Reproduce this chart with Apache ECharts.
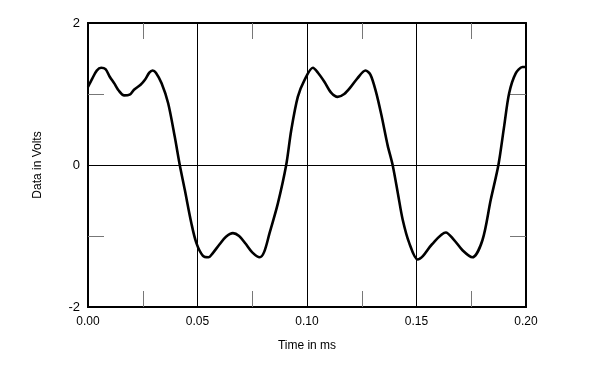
<!DOCTYPE html>
<html><head><meta charset="utf-8">
<script src="https://cdn.jsdelivr.net/npm/echarts@6/dist/echarts.min.js"></script>
<style>html,body{margin:0;padding:0;background:#fff}#c{width:600px;height:370px}</style>
</head><body><div id="c"></div>
<script>
const timeMs = [0.000,0.002,0.004,0.006,0.008,0.010,0.012,0.014,0.0165,0.019,0.021,0.024,0.026,0.028,0.0295,0.031,0.0336,0.0366,0.0396,0.0419,0.0442,0.0472,0.0495,0.0525,0.055,0.057,0.060,0.063,0.0662,0.069,0.072,0.075,0.0784,0.0805,0.0829,0.0867,0.0905,0.0928,0.0958,0.0989,0.1027,0.105,0.108,0.111,0.114,0.117,0.120,0.123,0.1267,0.129,0.1315,0.134,0.1368,0.1391,0.1415,0.1437,0.1467,0.1505,0.153,0.157,0.1634,0.167,0.171,0.1755,0.1801,0.1839,0.1874,0.1900,0.1923,0.1953,0.1984,0.2];
const volts = [1.10,1.22,1.33,1.37,1.35,1.24,1.15,1.05,0.98,0.99,1.06,1.13,1.20,1.30,1.33,1.30,1.15,0.87,0.40,0.00,-0.35,-0.82,-1.10,-1.28,-1.30,-1.24,-1.12,-1.01,-0.96,-1.00,-1.11,-1.23,-1.30,-1.22,-0.96,-0.54,0.00,0.49,0.96,1.20,1.37,1.30,1.17,1.02,0.96,1.00,1.10,1.22,1.33,1.27,1.03,0.70,0.28,0.00,-0.40,-0.77,-1.10,-1.33,-1.28,-1.12,-0.95,-1.05,-1.20,-1.30,-1.06,-0.49,0.00,0.54,1.01,1.29,1.38,1.38];
const xTickLabels = [0, 0.05, 0.10, 0.15, 0.20];
const xMinorTicks = [0.025, 0.075, 0.125, 0.175];
const yTickLabels = [-2, 0, 2];
const yMinorTicks = [-1, 1];

const data = timeMs.map((t, i) => [t, volts[i]]);
const font = 'Liberation Sans, Arial, sans-serif';
const chart = echarts.init(document.getElementById('c'), null, {renderer: 'canvas'});
const frame = {show: true, onZero: false, lineStyle: {color: '#000', width: 2}};
const split = {show: true, lineStyle: {color: '#000', width: 1}};
const tick = (vals) => ({show: true, inside: true, length: 16, customValues: vals, lineStyle: {color: '#777', width: 1}});
const xTickAxis = (pos) => ({
  type: 'value', min: 0, max: 0.2, position: pos,
  axisLine: frame, splitLine: {show: false}, axisTick: tick(xMinorTicks), axisLabel: {show: false}
});
const yTickAxis = (pos) => ({
  type: 'value', min: -2, max: 2, position: pos,
  axisLine: frame, splitLine: {show: false}, axisTick: tick(yMinorTicks), axisLabel: {show: false}
});
chart.setOption({
  animation: false,
  grid: {left: 88, right: 74, top: 23, bottom: 63},
  xAxis: [{
    type: 'value', min: 0, max: 0.2, interval: 0.05, position: 'bottom',
    axisLine: frame, splitLine: split, axisTick: {show: false},
    axisLabel: {color: '#000', fontFamily: font, fontSize: 12, margin: 9, customValues: xTickLabels, formatter: v => v.toFixed(2)},
    name: 'Time in ms', nameLocation: 'middle', nameGap: 33,
    nameTextStyle: {color: '#000', fontFamily: font, fontSize: 12}
  }, xTickAxis('bottom'), xTickAxis('top')],
  yAxis: [{
    type: 'value', min: -2, max: 2, interval: 2, position: 'left',
    axisLine: frame, splitLine: split, axisTick: {show: false},
    axisLabel: {color: '#000', fontFamily: font, fontSize: 13, margin: 8, customValues: yTickLabels},
    name: 'Data in Volts', nameLocation: 'middle', nameGap: 44, nameRotate: 90,
    nameTextStyle: {color: '#000', fontFamily: font, fontSize: 12}
  }, yTickAxis('left'), yTickAxis('right')],
  series: [{
    type: 'line', data: data, xAxisIndex: 0, yAxisIndex: 0,
    showSymbol: false, smooth: 0.3,
    lineStyle: {color: '#000', width: 2.6}
  }]
});
</script></body></html>
